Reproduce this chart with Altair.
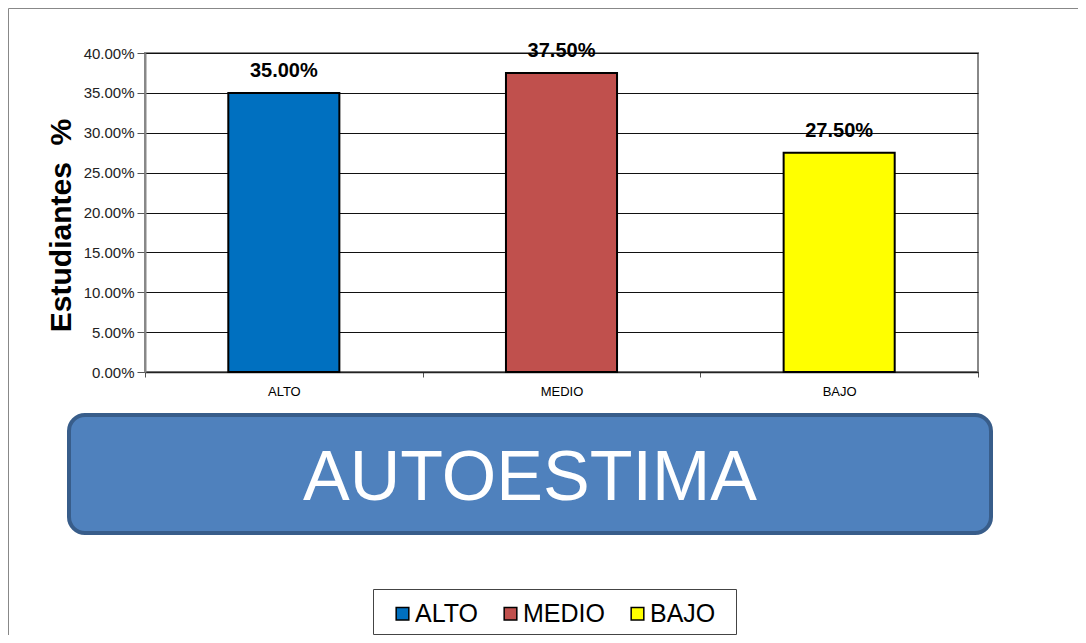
import altair as alt
import pandas as pd

categories = ["ALTO", "MEDIO", "BAJO"]
values = [0.35, 0.375, 0.275]
colors = ["#0070C0", "#C0504D", "#FFFF00"]
y_ticks = [0.0, 0.05, 0.10, 0.15, 0.20, 0.25, 0.30, 0.35, 0.40]
banner_title = "AUTOESTIMA"
y_title = "Estudiantes\u00a0\u00a0%"

df = pd.DataFrame({"nivel": categories, "pct": values})
one = pd.DataFrame({"t": [banner_title]})

FONT = "Liberation Sans"

x_enc = alt.X(
    "nivel:N",
    sort=categories,
    scale=alt.Scale(paddingInner=0, paddingOuter=0),
    axis=alt.Axis(
        title=None,
        labelAngle=0,
        labelFontSize=13,
        labelColor="black",
        labelPadding=8,
        tickBand="extent",
        tickSize=5,
        tickColor="#555",
        domainColor="#222",
        domainWidth=1.5,
        grid=False,
    ),
)
y_enc = alt.Y(
    "pct:Q",
    scale=alt.Scale(domain=[0, 0.4]),
    axis=alt.Axis(
        values=y_ticks,
        format=".2%",
        labelOverlap=False,
        labelFontSize=15,
        labelColor="#222",
        labelPadding=3,
        tickSize=8,
        tickColor="#555",
        domainColor="#888",
        domainWidth=2,
        gridColor="#111",
        gridWidth=1,
        title=y_title,
        titleFontSize=30,
        titleFontWeight="bold",
        titleColor="black",
        titleAngle=270,
        titleX=-75,
        titleY=172,
        titleAlign="center",
        titleBaseline="alphabetic",
    ),
)

border = alt.Chart(one).mark_rect(fillOpacity=0, stroke="#888", strokeWidth=1, clip=False).encode(
    x=alt.value(-136.5), x2=alt.value(3000), y=alt.value(-44.5), y2=alt.value(3000)
)

bars = alt.Chart(df).mark_bar(stroke="black", strokeWidth=2, width={"band": 0.4}).encode(
    x=x_enc,
    y=y_enc,
    color=alt.Color(
        "nivel:N",
        sort=categories,
        scale=alt.Scale(domain=categories, range=colors),
        legend=alt.Legend(
            orient="none",
            legendX=245,
            legendY=548,
            direction="horizontal",
            title=None,
            labelFontSize=25,
            labelColor="black",
            labelFont=FONT,
            symbolType="square",
            symbolSize=160,
            symbolStrokeColor="black",
            symbolStrokeWidth=1.5,
            symbolOpacity=1,
            labelOffset=0,
            columnPadding=20,
            padding=0,
        ),
    ),
)

labels = alt.Chart(df).mark_text(
    fontSize=20, fontWeight="bold", dy=-16, baseline="alphabetic", color="black"
).encode(
    x=x_enc,
    y=y_enc,
    text=alt.Text("pct:Q", format=".2%"),
)

banner = alt.Chart(one).mark_rect(
    fill="#4F81BD", stroke="#385D8A", strokeWidth=4, cornerRadius=16, clip=False
).encode(
    x=alt.value(-76), x2=alt.value(846), y=alt.value(362), y2=alt.value(480)
)

banner_text = alt.Chart(one).mark_text(
    fontSize=70, color="white", align="center", baseline="alphabetic", font=FONT
).encode(
    x=alt.value(385), y=alt.value(447), text="t:N"
)

legend_box = alt.Chart(one).mark_rect(
    fillOpacity=0, stroke="#444", strokeWidth=1, clip=False
).encode(
    x=alt.value(228.5), x2=alt.value(591.5), y=alt.value(536.5), y2=alt.value(581.5)
)

chart = alt.layer(border, legend_box, bars, labels, banner, banner_text).properties(
    width=833,
    height=319,
    autosize=alt.AutoSizeParams(type="none"),
    padding={"left": 137, "top": 45, "right": 100, "bottom": 263},
    background="white",
).configure(font=FONT).configure_view(stroke="#888", strokeWidth=2)

chart.save("out.html", embed_options={"renderer": "svg", "actions": False})
